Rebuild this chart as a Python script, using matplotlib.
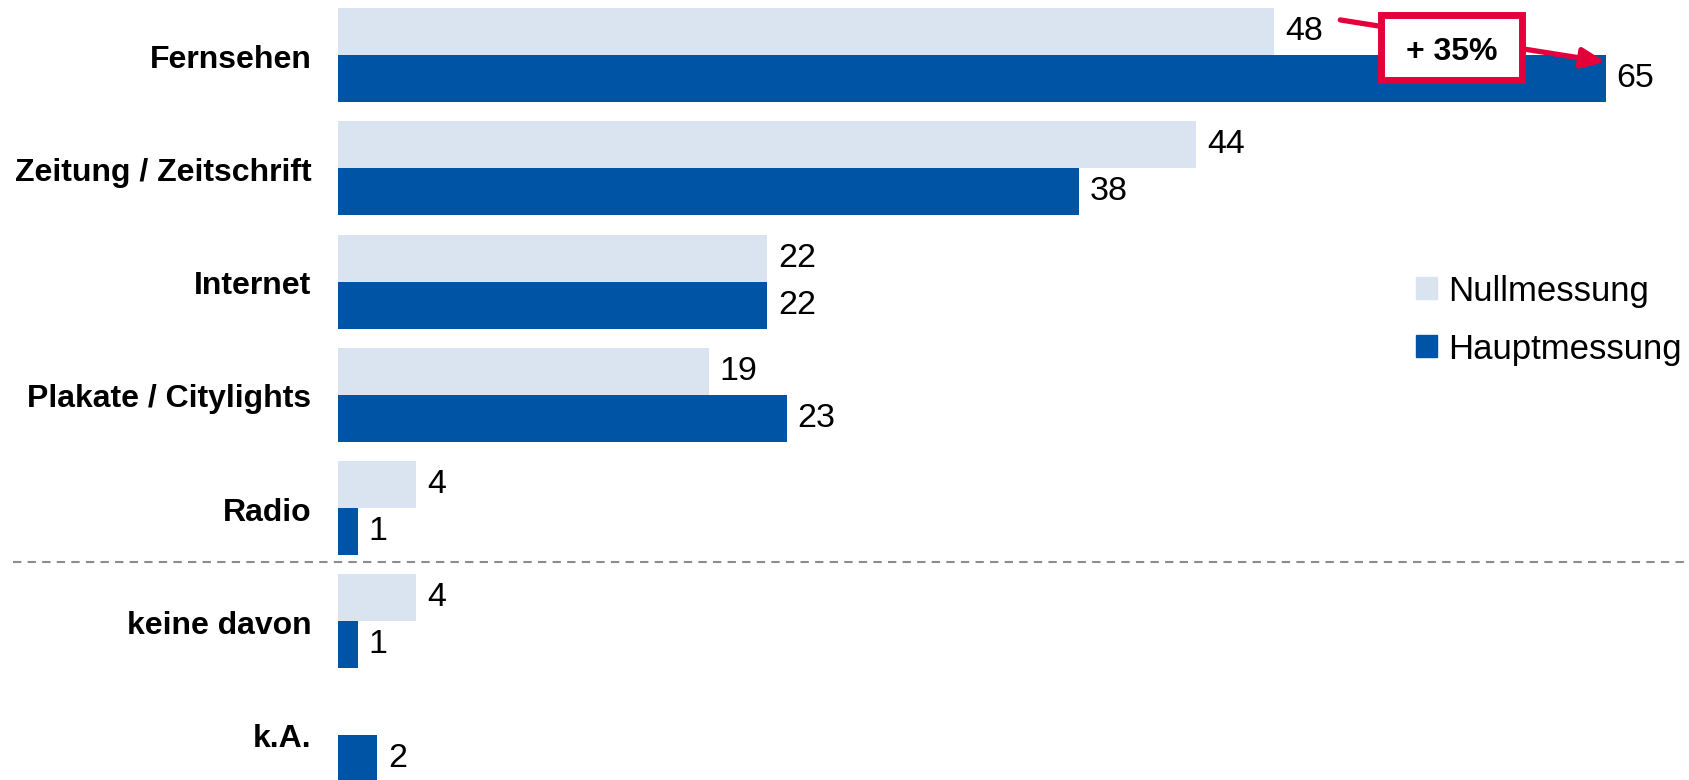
import numpy as np
import matplotlib.pyplot as plt
from matplotlib.patches import Rectangle, Patch

plt.rcParams['font.family'] = ['Liberation Sans', 'DejaVu Sans']

# Werte in Prozent
kategorien = ['Fernsehen', 'Zeitung / Zeitschrift', 'Internet', 'Plakate / Citylights',
              'Radio', 'keine davon', 'k.A.']
nullmessung = [48, 44, 22, 19, 4, 4, np.nan]
hauptmessung = [65, 38, 22, 23, 1, 1, 2]

hell = '#D9E4F0'
dunkel = '#0054A6'
rot = '#E4003A'

fig = plt.figure(figsize=(16.89, 7.8), dpi=100)
ax = fig.add_axes([338 / 1689, 0, 1 - 338 / 1689, 1])

y = np.arange(len(kategorien))
h = 0.415
b1 = ax.barh(y - h / 2, nullmessung, height=h, color=hell, label='Nullmessung')
b2 = ax.barh(y + h / 2, hauptmessung, height=h, color=dunkel, label='Hauptmessung')

# Werte an die Balken schreiben
for bars, vals in [(b1, nullmessung), (b2, hauptmessung)]:
    for rect, v in zip(bars, vals):
        if np.isnan(v):
            continue
        ax.annotate(f'{v:g}', (v, rect.get_y() + rect.get_height() / 2),
                    xytext=(8, 0), textcoords='offset points',
                    ha='left', va='center', fontsize=24.5)

ax.set_xlim(0, (1689 - 338) / 19.5)
ax.set_ylim(6.40, -0.485)
ax.set_yticks(y + 0.01)
ax.set_yticklabels(kategorien, fontsize=23, fontweight='bold')
ax.tick_params(axis='y', length=0, pad=19)
ax.set_xticks([])
for s in ax.spines.values():
    s.set_visible(False)

# Trennlinie vor "keine davon"
ax.axhline(4.475, xmin=-(338 - 13) / 1351, xmax=1, clip_on=False,
           color='#8C8C8C', lw=1.5, ls=(0, (4, 3)))

# Veraenderung Fernsehen
n0, h0 = nullmessung[0], hauptmessung[0]
ax.annotate('', xy=(h0, 0.062), xytext=(n0 + 3.4, -0.309),
            arrowprops=dict(arrowstyle='-|>,head_length=0.7,head_width=0.3',
                            mutation_scale=20, lw=3.8, color=rot,
                            shrinkA=0, shrinkB=0), zorder=5)
ax.add_patch(Rectangle((53.51, -0.357), 60.74 - 53.51, 0.225 + 0.357,
                       facecolor='white', edgecolor=rot, lw=5, zorder=6))
ax.text(57.13, -0.03, f'+ {round((h0 - n0) / n0 * 100)}%', ha='center', va='center',
        fontsize=23, fontweight='bold', zorder=7)

fig.legend(handles=[Patch(color=hell, label='Nullmessung'),
                    Patch(color=dunkel, label='Hauptmessung')],
           loc='center left', bbox_to_anchor=(1416 / 1689, 1 - 320 / 780),
           frameon=False, fontsize=25, handlelength=0.6, handleheight=0.6,
           handletextpad=0.33, labelspacing=0.72, borderpad=0, borderaxespad=0)

fig.savefig('out.png', dpi=100)
